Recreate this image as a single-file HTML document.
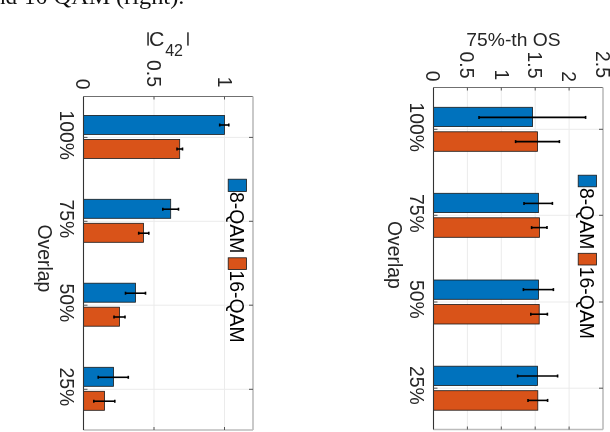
<!DOCTYPE html>
<html><head><meta charset="utf-8"><style>
html,body{margin:0;padding:0;background:#fff;width:610px;height:432px;overflow:hidden}
svg{display:block;will-change:transform}
text{font-family:"Liberation Sans", sans-serif}
</style></head><body>
<svg width="610" height="432" viewBox="0 0 610 432">
<line x1="154.00" y1="96.5" x2="154.00" y2="430" stroke="#ebebeb" stroke-width="1"/>
<line x1="224.50" y1="96.5" x2="224.50" y2="430" stroke="#ebebeb" stroke-width="1"/>
<line x1="83.5" y1="137.40" x2="253" y2="137.40" stroke="#ebebeb" stroke-width="1"/>
<line x1="83.5" y1="221.30" x2="253" y2="221.30" stroke="#ebebeb" stroke-width="1"/>
<line x1="83.5" y1="305.20" x2="253" y2="305.20" stroke="#ebebeb" stroke-width="1"/>
<line x1="83.5" y1="389.30" x2="253" y2="389.30" stroke="#ebebeb" stroke-width="1"/>
<rect x="83.50" y="115.40" width="141.00" height="19.00" fill="#0072BD" stroke="#1a1a1a" stroke-width="0.8"/>
<rect x="83.50" y="139.40" width="96.20" height="19.00" fill="#D95319" stroke="#1a1a1a" stroke-width="0.8"/>
<rect x="83.50" y="199.30" width="87.20" height="19.00" fill="#0072BD" stroke="#1a1a1a" stroke-width="0.8"/>
<rect x="83.50" y="223.30" width="60.00" height="19.00" fill="#D95319" stroke="#1a1a1a" stroke-width="0.8"/>
<rect x="83.50" y="283.20" width="52.00" height="19.00" fill="#0072BD" stroke="#1a1a1a" stroke-width="0.8"/>
<rect x="83.50" y="307.20" width="36.00" height="19.00" fill="#D95319" stroke="#1a1a1a" stroke-width="0.8"/>
<rect x="83.50" y="367.30" width="30.00" height="19.00" fill="#0072BD" stroke="#1a1a1a" stroke-width="0.8"/>
<rect x="83.50" y="391.30" width="21.00" height="19.00" fill="#D95319" stroke="#1a1a1a" stroke-width="0.8"/>
<line x1="219.70" y1="125.00" x2="228.80" y2="125.00" stroke="#000" stroke-width="1.6"/>
<line x1="219.70" y1="123.50" x2="219.70" y2="126.50" stroke="#000" stroke-width="1.6"/>
<line x1="228.80" y1="123.50" x2="228.80" y2="126.50" stroke="#000" stroke-width="1.6"/>
<line x1="177.00" y1="149.00" x2="182.50" y2="149.00" stroke="#000" stroke-width="1.6"/>
<line x1="177.00" y1="147.50" x2="177.00" y2="150.50" stroke="#000" stroke-width="1.6"/>
<line x1="182.50" y1="147.50" x2="182.50" y2="150.50" stroke="#000" stroke-width="1.6"/>
<line x1="162.80" y1="209.20" x2="178.50" y2="209.20" stroke="#000" stroke-width="1.6"/>
<line x1="162.80" y1="207.70" x2="162.80" y2="210.70" stroke="#000" stroke-width="1.6"/>
<line x1="178.50" y1="207.70" x2="178.50" y2="210.70" stroke="#000" stroke-width="1.6"/>
<line x1="138.70" y1="233.20" x2="148.80" y2="233.20" stroke="#000" stroke-width="1.6"/>
<line x1="138.70" y1="231.70" x2="138.70" y2="234.70" stroke="#000" stroke-width="1.6"/>
<line x1="148.80" y1="231.70" x2="148.80" y2="234.70" stroke="#000" stroke-width="1.6"/>
<line x1="125.50" y1="293.20" x2="145.50" y2="293.20" stroke="#000" stroke-width="1.6"/>
<line x1="125.50" y1="291.70" x2="125.50" y2="294.70" stroke="#000" stroke-width="1.6"/>
<line x1="145.50" y1="291.70" x2="145.50" y2="294.70" stroke="#000" stroke-width="1.6"/>
<line x1="114.00" y1="317.00" x2="125.00" y2="317.00" stroke="#000" stroke-width="1.6"/>
<line x1="114.00" y1="315.50" x2="114.00" y2="318.50" stroke="#000" stroke-width="1.6"/>
<line x1="125.00" y1="315.50" x2="125.00" y2="318.50" stroke="#000" stroke-width="1.6"/>
<line x1="98.20" y1="377.30" x2="128.30" y2="377.30" stroke="#000" stroke-width="1.6"/>
<line x1="98.20" y1="375.80" x2="98.20" y2="378.80" stroke="#000" stroke-width="1.6"/>
<line x1="128.30" y1="375.80" x2="128.30" y2="378.80" stroke="#000" stroke-width="1.6"/>
<line x1="93.80" y1="401.20" x2="114.80" y2="401.20" stroke="#000" stroke-width="1.6"/>
<line x1="93.80" y1="399.70" x2="93.80" y2="402.70" stroke="#000" stroke-width="1.6"/>
<line x1="114.80" y1="399.70" x2="114.80" y2="402.70" stroke="#000" stroke-width="1.6"/>
<line x1="83.5" y1="96.5" x2="253" y2="96.5" stroke="#707070" stroke-width="1"/>
<line x1="253" y1="96.5" x2="253" y2="430" stroke="#bcbcbc" stroke-width="1.6"/>
<line x1="83.5" y1="430" x2="253" y2="430" stroke="#bcbcbc" stroke-width="1.6"/>
<line x1="83.5" y1="96.5" x2="83.5" y2="430" stroke="#333" stroke-width="1.1"/>
<line x1="154.00" y1="96.5" x2="154.00" y2="99.5" stroke="#555" stroke-width="1"/>
<line x1="154.00" y1="427" x2="154.00" y2="430" stroke="#555" stroke-width="1"/>
<line x1="224.50" y1="96.5" x2="224.50" y2="99.5" stroke="#555" stroke-width="1"/>
<line x1="224.50" y1="427" x2="224.50" y2="430" stroke="#555" stroke-width="1"/>
<line x1="83.5" y1="137.40" x2="87.5" y2="137.40" stroke="#555" stroke-width="1"/>
<line x1="249" y1="137.40" x2="253" y2="137.40" stroke="#555" stroke-width="1"/>
<line x1="83.5" y1="221.30" x2="87.5" y2="221.30" stroke="#555" stroke-width="1"/>
<line x1="249" y1="221.30" x2="253" y2="221.30" stroke="#555" stroke-width="1"/>
<line x1="83.5" y1="305.20" x2="87.5" y2="305.20" stroke="#555" stroke-width="1"/>
<line x1="249" y1="305.20" x2="253" y2="305.20" stroke="#555" stroke-width="1"/>
<line x1="83.5" y1="389.30" x2="87.5" y2="389.30" stroke="#555" stroke-width="1"/>
<line x1="249" y1="389.30" x2="253" y2="389.30" stroke="#555" stroke-width="1"/>
<text transform="translate(76.40,89.50) rotate(90)" text-anchor="end" font-size="19.4" fill="#262626" >0</text>
<text transform="translate(147.20,87.00) rotate(90)" text-anchor="end" font-size="19.4" fill="#262626" >0.5</text>
<text transform="translate(218.00,87.50) rotate(90)" text-anchor="end" font-size="19.4" fill="#262626" >1</text>
<text transform="translate(60.20,110.50) rotate(90)" text-anchor="start" font-size="19.4" fill="#262626" >100%</text>
<text transform="translate(60.20,199.50) rotate(90)" text-anchor="start" font-size="19.4" fill="#262626" >75%</text>
<text transform="translate(60.20,283.50) rotate(90)" text-anchor="start" font-size="19.4" fill="#262626" >50%</text>
<text transform="translate(60.20,367.50) rotate(90)" text-anchor="start" font-size="19.4" fill="#262626" >25%</text>
<text transform="translate(38.00,224.50) rotate(90)" text-anchor="start" font-size="19.4" fill="#262626" >Overlap</text>
<rect x="228.2" y="179.2" width="18.30000000000001" height="12.300000000000011" fill="#0072BD" stroke="#1a1a1a" stroke-width="0.8"/>
<rect x="228.2" y="257.8" width="18.30000000000001" height="11.699999999999989" fill="#D95319" stroke="#1a1a1a" stroke-width="0.8"/>
<text transform="translate(230.20,192.00) rotate(90)" text-anchor="start" font-size="19.4" fill="#000" >8-QAM</text>
<text transform="translate(230.20,270.50) rotate(90)" text-anchor="start" font-size="19.4" fill="#000" >16-QAM</text>
<line x1="467.40" y1="87.5" x2="467.40" y2="429.5" stroke="#ebebeb" stroke-width="1"/>
<line x1="501.30" y1="87.5" x2="501.30" y2="429.5" stroke="#ebebeb" stroke-width="1"/>
<line x1="535.20" y1="87.5" x2="535.20" y2="429.5" stroke="#ebebeb" stroke-width="1"/>
<line x1="569.10" y1="87.5" x2="569.10" y2="429.5" stroke="#ebebeb" stroke-width="1"/>
<line x1="433.5" y1="129.30" x2="603" y2="129.30" stroke="#ebebeb" stroke-width="1"/>
<line x1="433.5" y1="215.30" x2="603" y2="215.30" stroke="#ebebeb" stroke-width="1"/>
<line x1="433.5" y1="302.00" x2="603" y2="302.00" stroke="#ebebeb" stroke-width="1"/>
<line x1="433.5" y1="388.20" x2="603" y2="388.20" stroke="#ebebeb" stroke-width="1"/>
<rect x="433.50" y="107.30" width="99.10" height="19.30" fill="#0072BD" stroke="#1a1a1a" stroke-width="0.8"/>
<rect x="433.50" y="131.80" width="104.10" height="19.50" fill="#D95319" stroke="#1a1a1a" stroke-width="0.8"/>
<rect x="433.50" y="193.30" width="104.90" height="19.30" fill="#0072BD" stroke="#1a1a1a" stroke-width="0.8"/>
<rect x="433.50" y="217.80" width="106.10" height="19.50" fill="#D95319" stroke="#1a1a1a" stroke-width="0.8"/>
<rect x="433.50" y="280.00" width="105.10" height="19.30" fill="#0072BD" stroke="#1a1a1a" stroke-width="0.8"/>
<rect x="433.50" y="304.50" width="105.70" height="19.50" fill="#D95319" stroke="#1a1a1a" stroke-width="0.8"/>
<rect x="433.50" y="366.20" width="104.10" height="19.30" fill="#0072BD" stroke="#1a1a1a" stroke-width="0.8"/>
<rect x="433.50" y="390.70" width="104.30" height="19.50" fill="#D95319" stroke="#1a1a1a" stroke-width="0.8"/>
<line x1="479.00" y1="117.40" x2="585.60" y2="117.40" stroke="#000" stroke-width="1.6"/>
<line x1="479.00" y1="115.90" x2="479.00" y2="118.90" stroke="#000" stroke-width="1.6"/>
<line x1="585.60" y1="115.90" x2="585.60" y2="118.90" stroke="#000" stroke-width="1.6"/>
<line x1="515.60" y1="141.60" x2="559.40" y2="141.60" stroke="#000" stroke-width="1.6"/>
<line x1="515.60" y1="140.10" x2="515.60" y2="143.10" stroke="#000" stroke-width="1.6"/>
<line x1="559.40" y1="140.10" x2="559.40" y2="143.10" stroke="#000" stroke-width="1.6"/>
<line x1="524.00" y1="203.40" x2="552.40" y2="203.40" stroke="#000" stroke-width="1.6"/>
<line x1="524.00" y1="201.90" x2="524.00" y2="204.90" stroke="#000" stroke-width="1.6"/>
<line x1="552.40" y1="201.90" x2="552.40" y2="204.90" stroke="#000" stroke-width="1.6"/>
<line x1="531.60" y1="227.60" x2="547.00" y2="227.60" stroke="#000" stroke-width="1.6"/>
<line x1="531.60" y1="226.10" x2="531.60" y2="229.10" stroke="#000" stroke-width="1.6"/>
<line x1="547.00" y1="226.10" x2="547.00" y2="229.10" stroke="#000" stroke-width="1.6"/>
<line x1="523.40" y1="289.60" x2="553.40" y2="289.60" stroke="#000" stroke-width="1.6"/>
<line x1="523.40" y1="288.10" x2="523.40" y2="291.10" stroke="#000" stroke-width="1.6"/>
<line x1="553.40" y1="288.10" x2="553.40" y2="291.10" stroke="#000" stroke-width="1.6"/>
<line x1="530.80" y1="314.20" x2="547.40" y2="314.20" stroke="#000" stroke-width="1.6"/>
<line x1="530.80" y1="312.70" x2="530.80" y2="315.70" stroke="#000" stroke-width="1.6"/>
<line x1="547.40" y1="312.70" x2="547.40" y2="315.70" stroke="#000" stroke-width="1.6"/>
<line x1="517.60" y1="376.00" x2="557.60" y2="376.00" stroke="#000" stroke-width="1.6"/>
<line x1="517.60" y1="374.50" x2="517.60" y2="377.50" stroke="#000" stroke-width="1.6"/>
<line x1="557.60" y1="374.50" x2="557.60" y2="377.50" stroke="#000" stroke-width="1.6"/>
<line x1="528.00" y1="400.40" x2="547.60" y2="400.40" stroke="#000" stroke-width="1.6"/>
<line x1="528.00" y1="398.90" x2="528.00" y2="401.90" stroke="#000" stroke-width="1.6"/>
<line x1="547.60" y1="398.90" x2="547.60" y2="401.90" stroke="#000" stroke-width="1.6"/>
<line x1="433.5" y1="87.5" x2="603" y2="87.5" stroke="#707070" stroke-width="1"/>
<line x1="603" y1="87.5" x2="603" y2="429.5" stroke="#bcbcbc" stroke-width="1.6"/>
<line x1="433.5" y1="429.5" x2="603" y2="429.5" stroke="#bcbcbc" stroke-width="1.6"/>
<line x1="433.5" y1="87.5" x2="433.5" y2="429.5" stroke="#333" stroke-width="1.1"/>
<line x1="467.40" y1="87.5" x2="467.40" y2="90.5" stroke="#555" stroke-width="1"/>
<line x1="467.40" y1="426.5" x2="467.40" y2="429.5" stroke="#555" stroke-width="1"/>
<line x1="501.30" y1="87.5" x2="501.30" y2="90.5" stroke="#555" stroke-width="1"/>
<line x1="501.30" y1="426.5" x2="501.30" y2="429.5" stroke="#555" stroke-width="1"/>
<line x1="535.20" y1="87.5" x2="535.20" y2="90.5" stroke="#555" stroke-width="1"/>
<line x1="535.20" y1="426.5" x2="535.20" y2="429.5" stroke="#555" stroke-width="1"/>
<line x1="569.10" y1="87.5" x2="569.10" y2="90.5" stroke="#555" stroke-width="1"/>
<line x1="569.10" y1="426.5" x2="569.10" y2="429.5" stroke="#555" stroke-width="1"/>
<line x1="433.5" y1="129.30" x2="437.5" y2="129.30" stroke="#555" stroke-width="1"/>
<line x1="599" y1="129.30" x2="603" y2="129.30" stroke="#555" stroke-width="1"/>
<line x1="433.5" y1="215.30" x2="437.5" y2="215.30" stroke="#555" stroke-width="1"/>
<line x1="599" y1="215.30" x2="603" y2="215.30" stroke="#555" stroke-width="1"/>
<line x1="433.5" y1="302.00" x2="437.5" y2="302.00" stroke="#555" stroke-width="1"/>
<line x1="599" y1="302.00" x2="603" y2="302.00" stroke="#555" stroke-width="1"/>
<line x1="433.5" y1="388.20" x2="437.5" y2="388.20" stroke="#555" stroke-width="1"/>
<line x1="599" y1="388.20" x2="603" y2="388.20" stroke="#555" stroke-width="1"/>
<text transform="translate(426.20,81.50) rotate(90)" text-anchor="end" font-size="19.4" fill="#262626" >0</text>
<text transform="translate(460.20,78.50) rotate(90)" text-anchor="end" font-size="19.4" fill="#262626" >0.5</text>
<text transform="translate(495.00,80.20) rotate(90)" text-anchor="end" font-size="19.4" fill="#262626" >1</text>
<text transform="translate(528.20,78.50) rotate(90)" text-anchor="end" font-size="19.4" fill="#262626" >1.5</text>
<text transform="translate(561.50,82.00) rotate(90)" text-anchor="end" font-size="19.4" fill="#262626" >2</text>
<text transform="translate(595.70,78.00) rotate(90)" text-anchor="end" font-size="19.4" fill="#262626" >2.5</text>
<text transform="translate(409.50,102.50) rotate(90)" text-anchor="start" font-size="19.4" fill="#262626" >100%</text>
<text transform="translate(409.50,194.00) rotate(90)" text-anchor="start" font-size="19.4" fill="#262626" >75%</text>
<text transform="translate(409.50,280.00) rotate(90)" text-anchor="start" font-size="19.4" fill="#262626" >50%</text>
<text transform="translate(409.50,366.00) rotate(90)" text-anchor="start" font-size="19.4" fill="#262626" >25%</text>
<text transform="translate(387.50,221.00) rotate(90)" text-anchor="start" font-size="19.4" fill="#262626" >Overlap</text>
<rect x="578.2" y="175.2" width="18.299999999999955" height="11.600000000000023" fill="#0072BD" stroke="#1a1a1a" stroke-width="0.8"/>
<rect x="578.2" y="253.3" width="18.299999999999955" height="11.699999999999989" fill="#D95319" stroke="#1a1a1a" stroke-width="0.8"/>
<text transform="translate(580.20,188.00) rotate(90)" text-anchor="start" font-size="19.4" fill="#000" >8-QAM</text>
<text transform="translate(580.20,266.70) rotate(90)" text-anchor="start" font-size="19.4" fill="#000" >16-QAM</text>
<rect x="147.3" y="32.3" width="1.5" height="13.3" fill="#262626"/>
<text transform="translate(149.1,45.6) scale(1.1,1)" font-size="19.4" fill="#262626">C</text>
<text x="165.2" y="56" font-size="16" fill="#262626">42</text>
<rect x="187.2" y="32.3" width="1.5" height="13.3" fill="#262626"/>
<text transform="translate(466.3,46) scale(1.06,1)" font-size="18.2" fill="#262626">75%-th OS</text>
<text transform="translate(-6,4.1) scale(1.0,1)" style="font-family:'Liberation Serif',serif" font-size="23" fill="#111">nd</text>
<text transform="translate(24,4.1) scale(1.0,1)" style="font-family:'Liberation Serif',serif" font-size="23" fill="#111">16-</text>
<text transform="translate(53.8,4.1) scale(1.05,1)" style="font-family:'Liberation Serif',serif" font-size="23" fill="#111">QAM</text>
<text transform="translate(116,4.1) scale(1.06,1)" style="font-family:'Liberation Serif',serif" font-size="23" fill="#111">(right).</text>
</svg>
</body></html>
